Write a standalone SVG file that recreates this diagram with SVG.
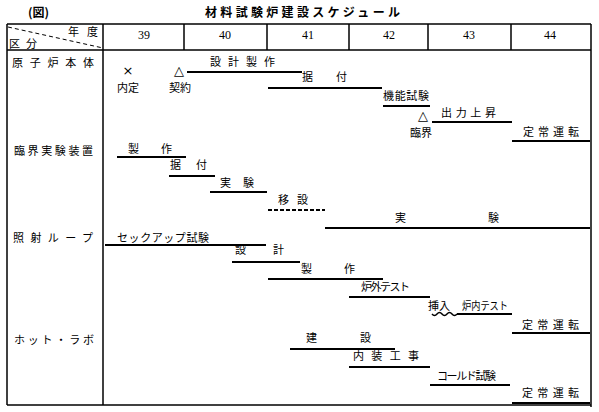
<svg xmlns="http://www.w3.org/2000/svg" width="599" height="412" viewBox="0 0 599 412">
<style>
text{font-family:"Noto Sans CJK JP","Liberation Sans",sans-serif;font-size:11px;fill:#000}
.yr{font-family:"Liberation Serif",serif;font-size:12px;text-anchor:middle}
.t{font-weight:bold;font-size:12px}
.sym{font-family:"DejaVu Sans",sans-serif;font-size:13px;text-anchor:middle}
.bar{stroke:#000;stroke-width:2;fill:none}
.ln{stroke:#000;stroke-width:1.5;fill:none}
.c{text-anchor:middle}
</style>
<rect width="599" height="412" fill="#fff"/>
<g id="title">
<text x="28" y="17" class="t">(図)</text>
<text x="205" y="17" class="t" textLength="195" lengthAdjust="spacing">材料試験炉建設スケジュール</text>
</g>
<g id="table">
<line class="ln" x1="7" y1="24" x2="591" y2="24"/>
<line class="ln" x1="7" y1="50" x2="591" y2="50"/>
<line class="ln" x1="7" y1="405" x2="591" y2="405"/>
<line class="ln" x1="7" y1="24" x2="7" y2="405"/>
<line class="ln" x1="103" y1="24" x2="103" y2="405"/>
<line class="ln" x1="591" y1="24" x2="591" y2="407"/>
<line class="ln" x1="184" y1="24" x2="184" y2="50"/>
<line class="ln" x1="267" y1="24" x2="267" y2="50"/>
<line class="ln" x1="349" y1="24" x2="349" y2="50"/>
<line class="ln" x1="428" y1="24" x2="428" y2="50"/>
<line class="ln" x1="511" y1="24" x2="511" y2="50"/>
<line x1="8" y1="27" x2="103" y2="48" stroke="#000" stroke-width="1" stroke-dasharray="4 3"/>
<text x="68" y="36" textLength="30" lengthAdjust="spacing">年度</text>
<text x="9" y="48" textLength="28" lengthAdjust="spacing">区分</text>
<text x="144" y="39" class="yr">39</text>
<text x="225" y="39" class="yr">40</text>
<text x="308" y="39" class="yr">41</text>
<text x="389" y="39" class="yr">42</text>
<text x="469" y="39" class="yr">43</text>
<text x="550" y="39" class="yr">44</text>
</g>
<g id="row-labels">
<text x="12" y="67" textLength="82" lengthAdjust="spacing">原子炉本体</text>
<text x="14" y="155" textLength="79" lengthAdjust="spacing">臨界実験装置</text>
<text x="13" y="242" textLength="80" lengthAdjust="spacing">照射ループ</text>
<text x="14" y="344" textLength="80" lengthAdjust="spacing">ホット・ラボ</text>
</g>
<g id="connectors">
<line class="bar" x1="187" y1="72" x2="302" y2="72"/>
<line class="bar" x1="268" y1="88" x2="382" y2="88"/>
<line class="bar" x1="383" y1="106" x2="430" y2="106"/>
<line class="bar" x1="432" y1="122" x2="512" y2="122"/>
<line class="bar" x1="512" y1="141" x2="590" y2="141"/>
<line class="bar" x1="117" y1="157" x2="186" y2="157"/>
<line class="bar" x1="169" y1="176" x2="215" y2="176"/>
<line class="bar" x1="210" y1="192" x2="267" y2="192"/>
<line class="bar" x1="268" y1="210" x2="325" y2="210" stroke-dasharray="4 2"/>
<line class="bar" x1="325" y1="228" x2="590" y2="228"/>
<line class="bar" x1="105" y1="245" x2="266" y2="245"/>
<line class="bar" x1="232" y1="262" x2="300" y2="262"/>
<line class="bar" x1="268" y1="279" x2="383" y2="279"/>
<line class="bar" x1="349" y1="297" x2="430" y2="297"/>
<path class="ln" d="M432 314 q2.5 3 5 0 t5 0 t5 0 t5 0 t5 0"/>
<line class="bar" x1="457" y1="314" x2="512" y2="314"/>
<line class="bar" x1="512" y1="333" x2="590" y2="333"/>
<line class="bar" x1="290" y1="349" x2="395" y2="349"/>
<line class="bar" x1="349" y1="367" x2="430" y2="367"/>
<line class="bar" x1="430" y1="385" x2="510" y2="385"/>
<line class="bar" x1="512" y1="403" x2="590" y2="403"/>
</g>
<g id="reactor">
<text x="128" y="75" class="sym">×</text>
<text x="128" y="92" class="c">内定</text>
<text x="179" y="75" class="sym">△</text>
<text x="180" y="92" class="c">契約</text>
<text x="210" y="66" textLength="65" lengthAdjust="spacing">設計製作</text>
<text x="302" y="81" textLength="45" lengthAdjust="spacing">据付</text>
<text x="383" y="100" textLength="46" lengthAdjust="spacing">機能試験</text>
<text x="423" y="120" class="sym">△</text>
<text x="421" y="137" class="c">臨界</text>
<text x="441" y="117" textLength="55" lengthAdjust="spacing">出力上昇</text>
<text x="523" y="136" textLength="56" lengthAdjust="spacing">定常運転</text>
</g>
<g id="critical">
<text x="128" y="153" textLength="44" lengthAdjust="spacing">製作</text>
<text x="170" y="169" textLength="37" lengthAdjust="spacing">据付</text>
<text x="220" y="187" textLength="34" lengthAdjust="spacing">実験</text>
<text x="278" y="204" textLength="30" lengthAdjust="spacing">移設</text>
<text x="395" y="222" textLength="104" lengthAdjust="spacing">実験</text>
</g>
<g id="loop">
<text x="117" y="242" textLength="92" lengthAdjust="spacing">セックアップ試験</text>
<text x="235" y="254" textLength="49" lengthAdjust="spacing">設計</text>
<text x="301" y="273" textLength="54" lengthAdjust="spacing">製作</text>
<text x="361" y="291" textLength="49" lengthAdjust="spacing">炉外テスト</text>
<text x="428" y="310" textLength="22">挿入</text>
<text x="462" y="310" textLength="46" lengthAdjust="spacingAndGlyphs">炉内テスト</text>
<text x="522" y="329" textLength="57" lengthAdjust="spacing">定常運転</text>
</g>
<g id="hotlab">
<text x="306" y="342" textLength="65" lengthAdjust="spacing">建設</text>
<text x="353" y="360" textLength="66" lengthAdjust="spacing">内装工事</text>
<text x="437" y="380" textLength="59" lengthAdjust="spacing">コールド試験</text>
<text x="522" y="397" textLength="57" lengthAdjust="spacing">定常運転</text>
</g>
</svg>
